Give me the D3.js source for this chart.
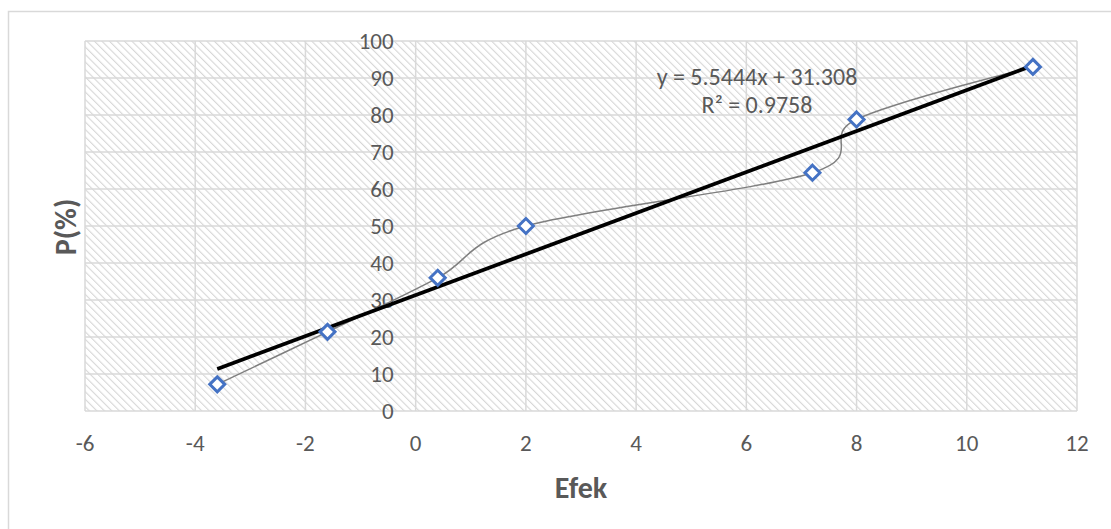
<!DOCTYPE html>
<html><head><meta charset="utf-8">
<script src="https://cdn.jsdelivr.net/npm/d3@7"></script>
<style>body{margin:0;background:#fff}svg{display:block}</style>
</head><body>
<script>
const xValues = [-3.6, -1.6, 0.4, 2, 7.2, 8, 11.2];
const yValues = [7.2, 21.4, 36, 50, 64.4, 78.8, 93];
const xTicks = [-6, -4, -2, 0, 2, 4, 6, 8, 10, 12];
const yTicks = [0, 10, 20, 30, 40, 50, 60, 70, 80, 90, 100];
const trendSlope = 5.5444, trendIntercept = 31.308;
const trendRange = [-3.6, 11.2];
const eqLines = ["y = 5.5444x + 31.308", "R² = 0.9758"];
const xTitle = "Efek", yTitle = "P(%)";

const W = 1111, H = 529;
const svg = d3.select("body").append("svg").attr("width", W).attr("height", H);
const font = "Carlito, Lato, 'Open Sans', sans-serif";
const defs = svg.append("defs");
const pat = defs.append("pattern").attr("id","hatch").attr("patternUnits","userSpaceOnUse")
  .attr("width",5.3).attr("height",5.3).attr("patternTransform","rotate(-45)");
pat.append("rect").attr("width",5.3).attr("height",5.3).attr("fill","#fff");
pat.append("line").attr("x1",0).attr("y1",0).attr("x2",0).attr("y2",5.3)
  .attr("stroke","#d6d6d6").attr("stroke-width",2.2);

svg.append("rect").attr("x",8.5).attr("y",11.5).attr("width",1200).attr("height",600)
  .attr("fill","#fff").attr("stroke","#d9d9d9").attr("stroke-width",1.5);

const x = d3.scaleLinear().domain([-6, 12]).range([85, 1077]);
const y = d3.scaleLinear().domain([0, 100]).range([411, 41]);

svg.append("rect").attr("x",x(-6)).attr("y",y(100)).attr("width",x(12)-x(-6)).attr("height",y(0)-y(100))
  .attr("fill","url(#hatch)");

const g = svg.append("g");
g.selectAll(".vg").data(xTicks).join("line").attr("x1",d=>x(d)).attr("x2",d=>x(d))
  .attr("y1",y(0)).attr("y2",y(100)).attr("stroke","#d9d9d9").attr("stroke-width",1.5);
g.selectAll(".hg").data(yTicks).join("line").attr("y1",d=>y(d)).attr("y2",d=>y(d))
  .attr("x1",x(-6)).attr("x2",x(12)).attr("stroke","#d9d9d9").attr("stroke-width",1.5);

// y tick labels at x=0
svg.append("g").selectAll("text").data(yTicks).join("text")
  .attr("x", x(0)-22).attr("y", d=>y(d)).attr("dy","0.35em").attr("text-anchor","end")
  .attr("font-family",font).attr("font-size",23).attr("fill","#595959").text(d=>d);
// x tick labels
svg.append("g").selectAll("text").data(xTicks).join("text")
  .attr("x", d=>x(d)).attr("y", 443).attr("dy","0.35em").attr("text-anchor","middle")
  .attr("font-family",font).attr("font-size",23).attr("fill","#595959").text(d=>d);

const pts = xValues.map((v,i)=>[v, yValues[i]]);
// smoothed line
svg.append("path").datum(pts)
  .attr("d", d3.line().x(d=>x(d[0])).y(d=>y(d[1])).curve(d3.curveCardinal.tension(0)))
  .attr("fill","none").attr("stroke","#7f7f7f").attr("stroke-width",1.5);
// trend line
svg.append("path").datum(trendRange.map(v=>[v, trendSlope*v + trendIntercept]))
  .attr("d", d3.line().x(d=>x(d[0])).y(d=>y(d[1])))
  .attr("fill","none").attr("stroke","#000").attr("stroke-width",3.8);
// markers
svg.append("g").selectAll("path").data(pts).join("path")
  .attr("transform", d=>`translate(${x(d[0])},${y(d[1])})`)
  .attr("d","M0,-7.5L7.5,0L0,7.5L-7.5,0Z")
  .attr("fill","#fff").attr("stroke","#4472C4").attr("stroke-width",3);

// equation
svg.append("g").selectAll("text").data(eqLines).join("text")
  .attr("x",757).attr("y",(d,i)=>77+i*28).attr("dy","0.35em").attr("text-anchor","middle")
  .attr("font-family",font).attr("font-size",24).attr("fill","#595959").text(d=>d);

// axis titles
svg.append("text").attr("x",581).attr("y",487).attr("dy","0.35em").attr("text-anchor","middle")
  .attr("font-family",font).attr("font-size",30).attr("font-weight","bold").attr("fill","#595959").text(xTitle);
svg.append("text").attr("transform","translate(65,227) rotate(-90)").attr("dy","0.35em").attr("text-anchor","middle")
  .attr("font-family",font).attr("font-size",30).attr("font-weight","bold").attr("fill","#595959").text(yTitle);
</script>
</body></html>
